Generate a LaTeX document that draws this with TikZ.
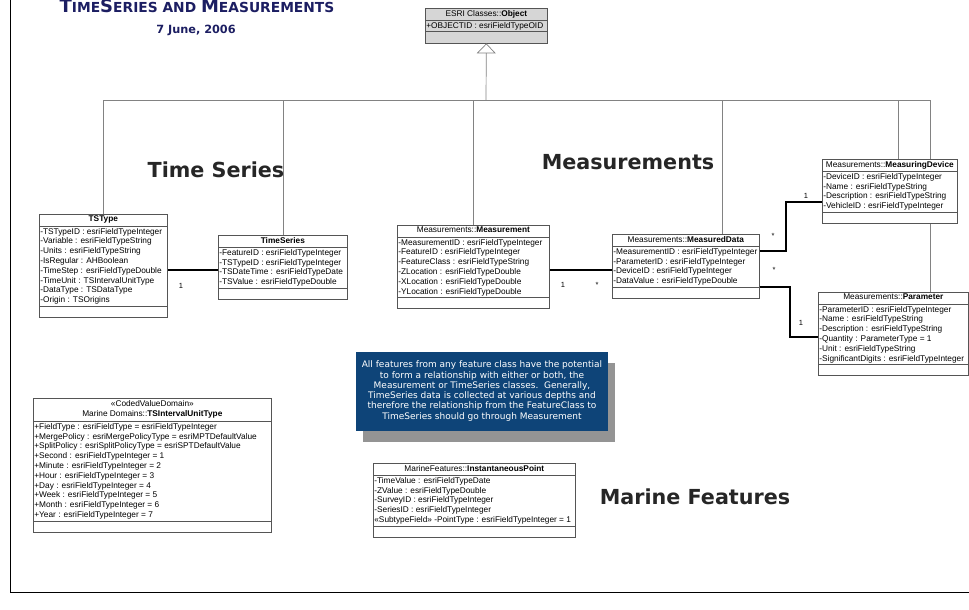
\documentclass[tikz,border=0pt]{standalone}
\usepackage{fontspec}
\setmainfont{Liberation Sans}
\newfontfamily\verdana{DejaVu Sans}
\usetikzlibrary{shapes.multipart,arrows.meta,backgrounds,shadows}
\definecolor{navy}{RGB}{28,30,98}
\definecolor{notefill}{RGB}{14,68,120}
\definecolor{linegray}{RGB}{130,130,130}
\definecolor{boxgray}{RGB}{85,85,85}
\definecolor{objfill}{RGB}{214,214,214}
\newcommand\kap[1]{{\fontsize{18}{18}\selectfont #1}}
\newcommand\kopf{\rule[-2.6pt]{0pt}{8.4pt}}
\tikzset{
  umlclass/.style={rectangle split, rectangle split parts=3, draw=boxgray, fill=white,
    line width=0.7pt, anchor=north west, align=left,
    rectangle split part align={center,left,left}, inner xsep=1pt, inner ysep=1.4pt,
    font=\fontsize{8.3}{9.8}\selectfont, rectangle split empty part height=7.8pt},
  inherit/.style={draw=linegray, line width=0.7pt},
  assoc/.style={draw=black, line width=2pt},
  mult/.style={font=\fontsize{7.5}{8}\selectfont, inner sep=0pt},
  bigtitle/.style={font=\verdana\bfseries\fontsize{20.7}{23}\selectfont, text=black!85},
}
\begin{document}
\begin{tikzpicture}[x=1pt,y=-1pt]
\useasboundingbox (0,0) rectangle (969,610);
% Rahmen
\draw[line width=0.8pt] (10,0) -- (10,592) -- (969,592);

% Titel
\node (titel) at (197,13) [anchor=base, text=navy, font=\verdana\bfseries\fontsize{13.8}{15}\selectfont]
  {\kap{T}IME\kap{S}ERIES AND \kap{M}EASUREMENTS};
\node (datum) at (196,30) [text=navy, font=\verdana\bfseries\fontsize{11.3}{13}\selectfont] {7 June, 2006};
\node (lblts) at (216,170) [bigtitle] {Time Series};
\node (lblmeas) at (628,162) [bigtitle] {Measurements};
\node (lblmarine) at (695,497) [bigtitle] {Marine Features};

% Klassen
\node (obj) at (425,8) [umlclass, fill=objfill, minimum width=122pt]
  {\kopf ESRI Classes::\textbf{Object}
   \nodepart{second}+OBJECTID : esriFieldTypeOID
   \nodepart{third}};
\node (tstype) at (39,214) [umlclass, minimum width=128pt]
  {\kopf\textbf{TSType}
   \nodepart{second}-TSTypeID : esriFieldTypeInteger\\-Variable : esriFieldTypeString\\
   -Units : esriFieldTypeString\\-IsRegular : AHBoolean\\-TimeStep : esriFieldTypeDouble\\
   -TimeUnit : TSIntervalUnitType\\-DataType : TSDataType\\-Origin : TSOrigins
   \nodepart{third}};
\node (timeseries) at (218,235) [umlclass, minimum width=129pt]
  {\kopf\textbf{TimeSeries}
   \nodepart{second}-FeatureID : esriFieldTypeInteger\\-TSTypeID : esriFieldTypeInteger\\
   -TSDateTime : esriFieldTypeDate\\-TSValue : esriFieldTypeDouble
   \nodepart{third}};
\node (meas) at (397,225) [umlclass, minimum width=152pt]
  {\kopf Measurements::\textbf{Measurement}
   \nodepart{second}-MeasurementID : esriFieldTypeInteger\\-FeatureID : esriFieldTypeInteger\\
   -FeatureClass : esriFieldTypeString\\-ZLocation : esriFieldTypeDouble\\
   -XLocation : esriFieldTypeDouble\\-YLocation : esriFieldTypeDouble
   \nodepart{third}};
\node (mdata) at (612,234) [umlclass, minimum width=147pt]
  {\kopf Measurements::\textbf{MeasuredData}
   \nodepart{second}-MeasurementID : esriFieldTypeInteger\\-ParameterID : esriFieldTypeInteger\\
   -DeviceID : esriFieldTypeInteger\\-DataValue : esriFieldTypeDouble
   \nodepart{third}};
\node (mdev) at (822,159) [umlclass, minimum width=135pt]
  {\kopf Measurements::\textbf{MeasuringDevice}
   \nodepart{second}-DeviceID : esriFieldTypeInteger\\-Name : esriFieldTypeString\\
   -Description : esriFieldTypeString\\-VehicleID : esriFieldTypeInteger
   \nodepart{third}};
\node (param) at (818,292) [umlclass, minimum width=150pt]
  {\kopf Measurements::\textbf{Parameter}
   \nodepart{second}-ParameterID : esriFieldTypeInteger\\-Name : esriFieldTypeString\\
   -Description : esriFieldTypeString\\-Quantity : ParameterType = 1\\
   -Unit : esriFieldTypeString\\-SignificantDigits : esriFieldTypeInteger
   \nodepart{third}};
\node (tsunit) at (33,398) [umlclass, minimum width=238pt]
  {\begin{tabular}{@{}c@{}}«CodedValueDomain»\\Marine Domains::\textbf{TSIntervalUnitType}\end{tabular}
   \nodepart{second}+FieldType : esriFieldType = esriFieldTypeInteger\\
   +MergePolicy : esriMergePolicyType = esriMPTDefaultValue\\
   +SplitPolicy : esriSplitPolicyType = esriSPTDefaultValue\\
   +Second : esriFieldTypeInteger = 1\\+Minute : esriFieldTypeInteger = 2\\
   +Hour : esriFieldTypeInteger = 3\\+Day : esriFieldTypeInteger = 4\\
   +Week : esriFieldTypeInteger = 5\\+Month : esriFieldTypeInteger = 6\\
   +Year : esriFieldTypeInteger = 7
   \nodepart{third}};
\node (instpt) at (373,463) [umlclass, minimum width=202pt]
  {\kopf MarineFeatures::\textbf{InstantaneousPoint}
   \nodepart{second}-TimeValue : esriFieldTypeDate\\-ZValue : esriFieldTypeDouble\\
   -SurveyID : esriFieldTypeInteger\\-SeriesID : esriFieldTypeInteger\\
   «SubtypeField» -PointType : esriFieldTypeInteger = 1
   \nodepart{third}};

% Notiz
\node (note) at (482,391) [fill=notefill, text=white, minimum width=252pt, minimum height=79pt,
  align=center, inner sep=2pt, font=\verdana\fontsize{9}{10.3}\selectfont,
  drop shadow={shadow xshift=7pt, shadow yshift=-11pt, fill=black!42, opacity=1}]
  {All features from any feature class have the potential\\
   to form a relationship with either or both, the\\
   Measurement or TimeSeries classes.\ \ Generally,\\
   TimeSeries data is collected at various depths and\\
   therefore the relationship from the FeatureClass to\\
   TimeSeries should go through Measurement};

% Vererbung
\coordinate (hub) at (486,100);
\draw[inherit, -{Triangle[open, length=10pt, width=19pt]}] (hub) -- (obj.south);
\begin{scope}[on background layer]
  \draw[inherit] (tstype.north) |- (hub);
  \draw[inherit] (timeseries.north) |- (hub);
  \draw[inherit] (meas.north) |- (hub);
  \draw[inherit] ([xshift=36.5pt]mdata.north) |- (hub);
  \draw[inherit] ([xshift=8.5pt]mdev.north) |- (hub);
  \draw[inherit] ([xshift=37pt]param.north) |- (hub);
\end{scope}

% Assoziationen
\coordinate (ts1) at ([yshift=-35pt]timeseries.north west);
\draw[assoc] (ts1) -- (ts1 -| tstype.east);
\coordinate (md1) at ([yshift=-36pt]mdata.north west);
\draw[assoc] (md1) -- (md1 -| meas.east);
\draw[assoc] ([yshift=-17pt]mdata.north east) -- ++(26,0) |- ([yshift=-43pt]mdev.north west);
\draw[assoc] ([yshift=-53pt]mdata.north east) -- ++(30,0) |- ([yshift=-45pt]param.north west);

% Multiplizitaeten
\node (m1) at (181,286) [mult] {1};
\node (m2) at (563,285) [mult] {1};
\node (m3) at (597,285) [mult] {*};
\node (m4) at (773,236) [mult] {*};
\node (m5) at (806,196) [mult] {1};
\node (m6) at (774,270) [mult] {*};
\node (m7) at (801,323) [mult] {1};
\end{tikzpicture}
\end{document}
